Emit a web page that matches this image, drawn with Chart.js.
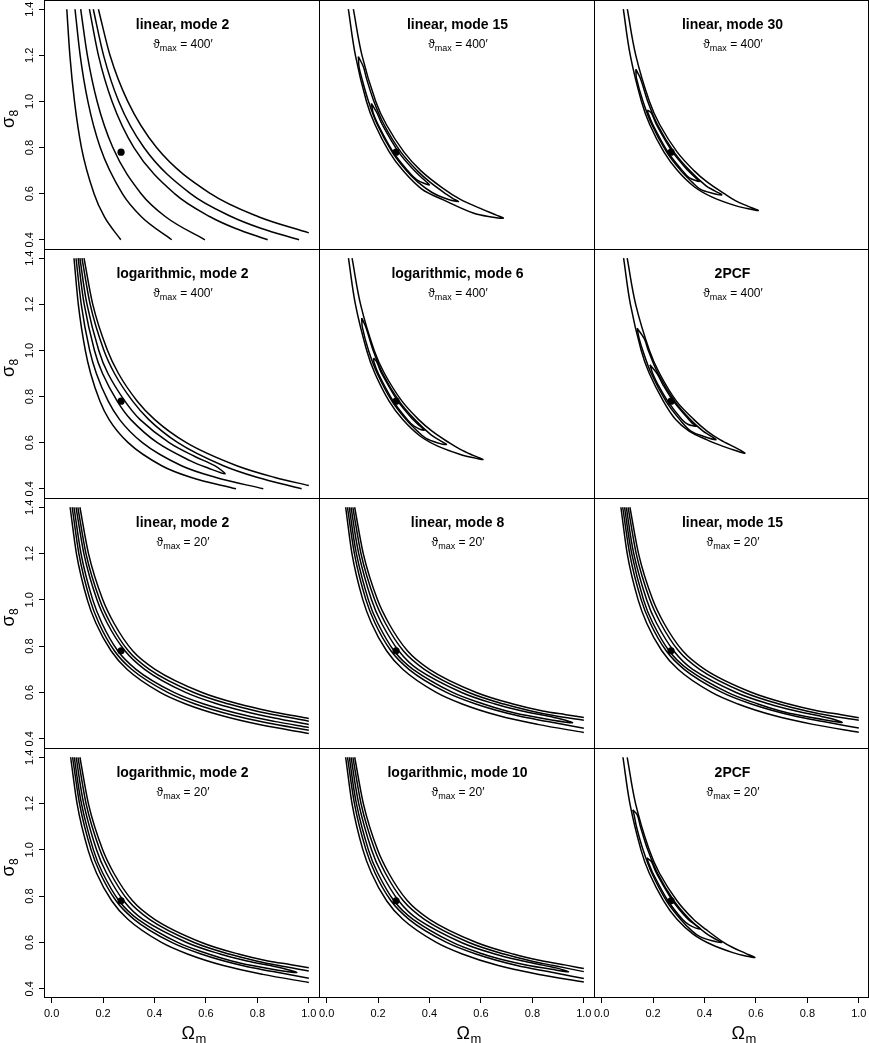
<!DOCTYPE html>
<html>
<head>
<meta charset="utf-8">
<script src="https://cdn.jsdelivr.net/npm/chart.js@4.4.0/dist/chart.umd.min.js"></script>
<style>
  body { margin: 0; background: #fff; width: 869px; height: 1043px; position: relative; overflow: hidden; }
  canvas { position: absolute; }
</style>
</head>
<body>
<script>
// axis ticks
const xTicks = [0.0, 0.2, 0.4, 0.6, 0.8, 1.0];
const yTicks = [0.4, 0.6, 0.8, 1.0, 1.2, 1.4];

// fiducial model (Omega_m, sigma_8)
const fiducial = [[0.27, 0.78]];

// panel titles
const panelTitles = ['linear, mode 2', 'linear, mode 15', 'linear, mode 30',
  'logarithmic, mode 2', 'logarithmic, mode 6', '2PCF',
  'linear, mode 2', 'linear, mode 8', 'linear, mode 15',
  'logarithmic, mode 2', 'logarithmic, mode 10', '2PCF'];
const panelTheta = ['400\u2032', '400\u2032', '400\u2032', '400\u2032', '400\u2032', '400\u2032',
  '20\u2032', '20\u2032', '20\u2032', '20\u2032', '20\u2032', '20\u2032'];

// contour lines, [Omega_m, sigma_8]
// panel 1 - linear, mode 2, 400'
const p1c1 = [[0.059,1.4],[0.071,1.2],[0.089,1.0],[0.116,0.8],[0.165,0.6],[0.205,0.5],[0.269,0.4]];
const p1c2 = [[0.091,1.4],[0.111,1.2],[0.141,1.0],[0.189,0.8],[0.275,0.6],[0.349,0.5],[0.467,0.4]];
const p1c3 = [[0.113,1.4],[0.139,1.2],[0.177,1.0],[0.238,0.8],[0.348,0.6],[0.443,0.5],[0.596,0.4]];
const p1c4 = [[0.147,1.4],[0.182,1.2],[0.235,1.0],[0.320,0.8],[0.478,0.6],[0.616,0.5],[0.713,0.45],[0.840,0.4]];
const p1c5 = [[0.162,1.4],[0.202,1.2],[0.261,1.0],[0.359,0.8],[0.540,0.6],[0.700,0.5],[0.813,0.45],[0.962,0.4]];
const p1c6 = [[0.182,1.4],[0.227,1.2],[0.296,1.0],[0.408,0.8],[0.618,0.6],[0.804,0.5],[1.0,0.43]];

// panel 2 - linear, mode 15, 400'
const p2Outer = [[0.0845,1.4],[0.112,1.2],[0.155,1.0],[0.188,0.9],[0.244,0.78],[0.297,0.7],[0.37,0.62],[0.454,0.573],[0.57,0.516],[0.64,0.499],[0.687,0.494],[0.66,0.507],[0.6,0.535],[0.52,0.575],[0.45,0.625],[0.366,0.7],[0.301,0.78],[0.232,0.9],[0.191,1.0],[0.1375,1.2],[0.104,1.4]];
const p2Mid = [[0.1235,1.195],[0.126,1.15],[0.137,1.1],[0.163,1.0],[0.197,0.9],[0.255,0.78],[0.31,0.7],[0.355,0.65],[0.41,0.605],[0.46,0.58],[0.512,0.566],[0.49,0.58],[0.465,0.598],[0.402,0.65],[0.352,0.7],[0.289,0.78],[0.223,0.9],[0.184,1.0],[0.155,1.1],[0.143,1.15],[0.1235,1.195]];
const p2In = [[0.174,0.992],[0.181,0.95],[0.2,0.9],[0.259,0.78],[0.315,0.7],[0.351,0.66],[0.399,0.638],[0.379,0.66],[0.341,0.7],[0.28,0.78],[0.216,0.9],[0.196,0.95],[0.174,0.992]];

// panel 3 - linear, mode 30, 400'
const p3Outer = [[0.0844,1.4],[0.1115,1.2],[0.155,1.0],[0.187,0.9],[0.2426,0.78],[0.295,0.7],[0.36,0.63],[0.43,0.585],[0.52,0.548],[0.58,0.532],[0.609,0.527],[0.57,0.545],[0.52,0.57],[0.477,0.6],[0.411,0.65],[0.359,0.7],[0.294,0.78],[0.2257,0.9],[0.1859,1.0],[0.1329,1.2],[0.1,1.4]];
const p3Mid = [[0.133,1.14],[0.1356,1.1],[0.161,1.0],[0.195,0.9],[0.253,0.78],[0.308,0.7],[0.352,0.65],[0.383,0.62],[0.43,0.602],[0.467,0.595],[0.44,0.612],[0.405,0.635],[0.3426,0.7],[0.2815,0.78],[0.217,0.9],[0.1795,1.0],[0.151,1.1],[0.133,1.14]];
const p3In = [[0.178,0.963],[0.1805,0.95],[0.199,0.9],[0.258,0.78],[0.314,0.7],[0.34,0.67],[0.38,0.653],[0.364,0.67],[0.336,0.7],[0.2765,0.78],[0.213,0.9],[0.193,0.95],[0.178,0.963]];

// panel 4 - logarithmic, mode 2, 400'
const p4A = [[0.087,1.4],[0.1038,1.2],[0.131,1.0],[0.1518,0.9],[0.188,0.78],[0.2236,0.7],[0.2976,0.6],[0.428,0.5],[0.54,0.45],[0.717,0.4]];
const p4B = [[0.095,1.4],[0.1152,1.2],[0.148,1.0],[0.174,0.9],[0.22,0.78],[0.2645,0.7],[0.353,0.6],[0.505,0.5],[0.636,0.45],[0.823,0.4]];
const p4In = [[0.103,1.4],[0.1268,1.2],[0.1666,1.0],[0.198,0.9],[0.255,0.78],[0.308,0.7],[0.411,0.6],[0.542,0.52],[0.608,0.49],[0.674,0.465],[0.634,0.5],[0.557,0.54],[0.457,0.6],[0.344,0.7],[0.285,0.78],[0.219,0.9],[0.1834,1.0],[0.1376,1.2],[0.11,1.4]];
const p4C = [[0.118,1.4],[0.1499,1.2],[0.2035,1.0],[0.2446,0.9],[0.315,0.78],[0.378,0.7],[0.491,0.6],[0.668,0.5],[0.798,0.45],[0.972,0.4]];
const p4D = [[0.126,1.4],[0.16,1.2],[0.2174,1.0],[0.26,0.9],[0.333,0.78],[0.401,0.7],[0.524,0.6],[0.72,0.5],[0.865,0.45],[1.0,0.414]];

// panel 5 - logarithmic, mode 6, 400'
const p5Outer = [[0.085,1.4],[0.112,1.2],[0.156,1.0],[0.188,0.9],[0.243,0.78],[0.296,0.7],[0.362,0.63],[0.432,0.585],[0.52,0.549],[0.578,0.533],[0.608,0.527],[0.57,0.545],[0.52,0.571],[0.476,0.6],[0.41,0.65],[0.358,0.7],[0.293,0.78],[0.225,0.9],[0.185,1.0],[0.132,1.2],[0.099,1.4]];
const p5Mid = [[0.1365,1.141],[0.139,1.1],[0.163,1.0],[0.197,0.9],[0.254,0.78],[0.309,0.7],[0.353,0.65],[0.385,0.62],[0.43,0.6],[0.466,0.592],[0.44,0.61],[0.405,0.635],[0.343,0.7],[0.282,0.78],[0.218,0.9],[0.181,1.0],[0.153,1.1],[0.1365,1.141]];
const p5In = [[0.1824,0.967],[0.184,0.95],[0.201,0.9],[0.259,0.78],[0.314,0.7],[0.34,0.672],[0.379,0.654],[0.363,0.672],[0.336,0.7],[0.277,0.78],[0.214,0.9],[0.195,0.95],[0.1824,0.967]];

// panel 6 - 2PCF, 400'
const p6Outer = [[0.0855,1.4],[0.112,1.2],[0.154,1.0],[0.1856,0.9],[0.24,0.78],[0.288,0.7],[0.34,0.65],[0.41,0.612],[0.47,0.585],[0.52,0.566],[0.557,0.554],[0.535,0.57],[0.46,0.613],[0.41,0.65],[0.359,0.7],[0.291,0.78],[0.2255,0.9],[0.1859,1.0],[0.1324,1.2],[0.0995,1.4]];
const p6Mid = [[0.138,1.097],[0.1464,1.05],[0.16,1.0],[0.193,0.9],[0.25,0.78],[0.304,0.7],[0.347,0.65],[0.395,0.628],[0.444,0.613],[0.42,0.632],[0.3945,0.65],[0.345,0.7],[0.284,0.78],[0.2195,0.9],[0.1816,1.0],[0.1663,1.05],[0.138,1.097]];
const p6In = [[0.188,0.938],[0.1986,0.9],[0.22,0.85],[0.257,0.78],[0.312,0.7],[0.335,0.68],[0.369,0.671],[0.352,0.685],[0.339,0.7],[0.279,0.78],[0.239,0.85],[0.2156,0.9],[0.188,0.938]];

// panel 7 - linear, mode 2, 20'
const p7L1 = [[0.072,1.4],[0.0965,1.2],[0.1388,1.0],[0.172,0.9],[0.231,0.78],[0.293,0.7],[0.422,0.6],[0.5215,0.55],[0.66,0.5],[0.812,0.46],[1.0,0.423]];
const p7L2 = [[0.08,1.4],[0.106,1.2],[0.1496,1.0],[0.1836,0.9],[0.244,0.78],[0.311,0.7],[0.451,0.6],[0.558,0.55],[0.709,0.5],[0.831,0.47],[1.0,0.437]];
const p7L3 = [[0.087,1.4],[0.1143,1.2],[0.16,1.0],[0.1953,0.9],[0.257,0.78],[0.328,0.7],[0.476,0.6],[0.592,0.55],[0.757,0.5],[0.866,0.475],[1.0,0.449]];
const p7U1 = [[0.095,1.4],[0.1254,1.2],[0.1764,1.0],[0.216,0.9],[0.285,0.78],[0.3616,0.7],[0.521,0.6],[0.645,0.55],[0.745,0.52],[0.866,0.49],[1.0,0.462]];
const p7U2 = [[0.102,1.4],[0.1336,1.2],[0.187,1.0],[0.228,0.9],[0.298,0.78],[0.38,0.7],[0.553,0.6],[0.689,0.55],[0.795,0.52],[0.882,0.5],[1.0,0.476]];
const p7U3 = [[0.11,1.4],[0.1434,1.2],[0.199,1.0],[0.242,0.9],[0.315,0.78],[0.402,0.7],[0.585,0.6],[0.729,0.55],[0.844,0.52],[0.936,0.5],[1.0,0.4876]];

// panel 8 - linear, mode 8, 20'
const p8L1 = [[0.074,1.4],[0.0985,1.2],[0.141,1.0],[0.174,0.9],[0.233,0.78],[0.296,0.7],[0.426,0.6],[0.527,0.55],[0.667,0.5],[0.82,0.462],[1.0,0.427]];
const p8L2 = [[0.081,1.4],[0.108,1.2],[0.153,1.0],[0.188,0.9],[0.25,0.78],[0.32,0.7],[0.466,0.6],[0.58,0.55],[0.74,0.5],[0.86,0.474],[1.0,0.445]];
const p8In = [[0.088,1.4],[0.1158,1.2],[0.1624,1.0],[0.1985,0.9],[0.262,0.78],[0.336,0.7],[0.49,0.6],[0.61,0.55],[0.7,0.52],[0.78,0.5],[0.88,0.48],[0.956,0.469],[0.91,0.485],[0.85,0.5],[0.76,0.52],[0.655,0.55],[0.525,0.6],[0.355,0.7],[0.28,0.78],[0.2132,0.9],[0.1746,1.0],[0.1248,1.2],[0.095,1.4]];
const p8U1 = [[0.102,1.4],[0.1336,1.2],[0.187,1.0],[0.228,0.9],[0.298,0.78],[0.38,0.7],[0.553,0.6],[0.689,0.55],[0.795,0.52],[0.882,0.5],[1.0,0.48]];
const p8U2 = [[0.109,1.4],[0.1425,1.2],[0.198,1.0],[0.241,0.9],[0.314,0.78],[0.4,0.7],[0.582,0.6],[0.725,0.55],[0.84,0.52],[0.93,0.504],[1.0,0.492]];

// panel 9 - linear, mode 15, 20'
const p9L1 = [[0.075,1.4],[0.0995,1.2],[0.142,1.0],[0.175,0.9],[0.234,0.78],[0.297,0.7],[0.428,0.6],[0.53,0.55],[0.67,0.5],[0.822,0.462],[1.0,0.428]];
const p9L2 = [[0.082,1.4],[0.109,1.2],[0.154,1.0],[0.189,0.9],[0.251,0.78],[0.321,0.7],[0.468,0.6],[0.582,0.55],[0.742,0.5],[0.862,0.474],[1.0,0.446]];
const p9In = [[0.089,1.4],[0.117,1.2],[0.163,1.0],[0.199,0.9],[0.262,0.78],[0.336,0.7],[0.49,0.6],[0.608,0.55],[0.695,0.52],[0.775,0.5],[0.87,0.481],[0.935,0.47],[0.895,0.486],[0.84,0.5],[0.755,0.52],[0.652,0.55],[0.523,0.6],[0.354,0.7],[0.28,0.78],[0.213,0.9],[0.175,1.0],[0.125,1.2],[0.096,1.4]];
const p9U1 = [[0.103,1.4],[0.1345,1.2],[0.188,1.0],[0.229,0.9],[0.299,0.78],[0.381,0.7],[0.555,0.6],[0.69,0.55],[0.797,0.52],[0.884,0.5],[1.0,0.48]];
const p9U2 = [[0.11,1.4],[0.1435,1.2],[0.199,1.0],[0.242,0.9],[0.315,0.78],[0.401,0.7],[0.584,0.6],[0.727,0.55],[0.842,0.52],[0.932,0.504],[1.0,0.491]];

// panel 10 - logarithmic, mode 2, 20'
const p10L1 = [[0.074,1.4],[0.099,1.2],[0.1415,1.0],[0.1745,0.9],[0.2335,0.78],[0.2965,0.7],[0.427,0.6],[0.528,0.55],[0.668,0.5],[0.821,0.462],[1.0,0.427]];
const p10L2 = [[0.0815,1.4],[0.1085,1.2],[0.1535,1.0],[0.1885,0.9],[0.2505,0.78],[0.3205,0.7],[0.467,0.6],[0.581,0.55],[0.741,0.5],[0.861,0.474],[1.0,0.445]];
const p10In = [[0.088,1.4],[0.116,1.2],[0.1625,1.0],[0.1985,0.9],[0.262,0.78],[0.336,0.7],[0.49,0.6],[0.61,0.55],[0.7,0.52],[0.78,0.5],[0.88,0.48],[0.953,0.47],[0.905,0.486],[0.85,0.5],[0.76,0.52],[0.655,0.55],[0.525,0.6],[0.355,0.7],[0.28,0.78],[0.2132,0.9],[0.1746,1.0],[0.1248,1.2],[0.0955,1.4]];
const p10U1 = [[0.1025,1.4],[0.134,1.2],[0.1875,1.0],[0.2285,0.9],[0.2985,0.78],[0.3805,0.7],[0.554,0.6],[0.69,0.55],[0.796,0.52],[0.883,0.5],[1.0,0.477]];
const p10U2 = [[0.11,1.4],[0.143,1.2],[0.1985,1.0],[0.2415,0.9],[0.3145,0.78],[0.4005,0.7],[0.583,0.6],[0.726,0.55],[0.841,0.52],[0.931,0.504],[1.0,0.491]];

// panel 11 - logarithmic, mode 10, 20'
const p11L1 = [[0.074,1.4],[0.0988,1.2],[0.1412,1.0],[0.1742,0.9],[0.2332,0.78],[0.2962,0.7],[0.4265,0.6],[0.5275,0.55],[0.6675,0.5],[0.8205,0.463],[1.0,0.429]];
const p11L2 = [[0.0812,1.4],[0.1082,1.2],[0.1532,1.0],[0.1882,0.9],[0.2502,0.78],[0.3202,0.7],[0.4665,0.6],[0.5805,0.55],[0.7405,0.5],[0.8605,0.474],[1.0,0.444]];
const p11In = [[0.0882,1.4],[0.1159,1.2],[0.1625,1.0],[0.1986,0.9],[0.262,0.78],[0.336,0.7],[0.49,0.6],[0.608,0.55],[0.697,0.522],[0.775,0.503],[0.875,0.484],[0.94,0.473],[0.9,0.488],[0.845,0.501],[0.758,0.521],[0.654,0.55],[0.524,0.6],[0.355,0.7],[0.28,0.78],[0.2132,0.9],[0.1746,1.0],[0.1248,1.2],[0.0952,1.4]];
const p11U1 = [[0.1022,1.4],[0.1338,1.2],[0.1872,1.0],[0.2282,0.9],[0.2982,0.78],[0.3802,0.7],[0.5535,0.6],[0.6895,0.55],[0.7955,0.52],[0.8825,0.5],[1.0,0.474]];
const p11U2 = [[0.1092,1.4],[0.1428,1.2],[0.1982,1.0],[0.2412,0.9],[0.3142,0.78],[0.4002,0.7],[0.5825,0.6],[0.7255,0.55],[0.8405,0.52],[0.9305,0.502],[1.0,0.487]];

// panel 12 - 2PCF, 20'
const p12Outer = [[0.083,1.4],[0.11,1.2],[0.153,1.0],[0.185,0.9],[0.241,0.78],[0.293,0.7],[0.357,0.635],[0.425,0.592],[0.51,0.556],[0.566,0.54],[0.596,0.535],[0.56,0.553],[0.51,0.578],[0.468,0.605],[0.407,0.655],[0.357,0.7],[0.293,0.78],[0.2245,0.9],[0.185,1.0],[0.132,1.2],[0.0995,1.4]];
const p12Mid = [[0.121,1.173],[0.1265,1.15],[0.1356,1.1],[0.161,1.0],[0.195,0.9],[0.252,0.78],[0.307,0.7],[0.351,0.65],[0.382,0.625],[0.43,0.607],[0.467,0.6],[0.44,0.616],[0.405,0.64],[0.342,0.7],[0.281,0.78],[0.217,0.9],[0.1795,1.0],[0.151,1.1],[0.139,1.15],[0.121,1.173]];
const p12In = [[0.176,0.965],[0.1805,0.95],[0.199,0.9],[0.258,0.78],[0.314,0.7],[0.342,0.675],[0.384,0.658],[0.366,0.675],[0.336,0.7],[0.2765,0.78],[0.213,0.9],[0.193,0.95],[0.176,0.965]];

const panelCurves = [
  [p1c1, p1c2, p1c3, p1c4, p1c5, p1c6],
  [p2Outer, p2Mid, p2In],
  [p3Outer, p3Mid, p3In],
  [p4A, p4B, p4In, p4C, p4D],
  [p5Outer, p5Mid, p5In],
  [p6Outer, p6Mid, p6In],
  [p7L1, p7L2, p7L3, p7U1, p7U2, p7U3],
  [p8L1, p8L2, p8In, p8U1, p8U2],
  [p9L1, p9L2, p9In, p9U1, p9U2],
  [p10L1, p10L2, p10In, p10U1, p10U2],
  [p11L1, p11L2, p11In, p11U1, p11U2],
  [p12Outer, p12Mid, p12In]
];

// page layout
const colLeft = [44, 319, 594];
const colW = 275;
const rowTop = [0, 249, 498, 748];
const rowH = [249, 249, 250, 250];
const yAxisW = 44;
const xAxisH = 45;
const FONT = '"Liberation Sans", Arial, Helvetica, sans-serif';

// frame round each panel (shared edges drawn once)
const panelFrame = {
  id: 'panelFrame',
  afterDraw(chart, args, opts) {
    const a = chart.chartArea, ctx = chart.ctx;
    ctx.save();
    ctx.strokeStyle = '#000';
    ctx.lineWidth = 1;
    ctx.beginPath();
    ctx.moveTo(a.left, a.top + 0.5); ctx.lineTo(a.right, a.top + 0.5);
    ctx.moveTo(a.left + 0.5, a.top); ctx.lineTo(a.left + 0.5, a.bottom);
    if (opts.right) { ctx.moveTo(a.right - 0.5, a.top); ctx.lineTo(a.right - 0.5, a.bottom); }
    if (opts.bottom) { ctx.moveTo(a.left, a.bottom - 0.5); ctx.lineTo(a.right, a.bottom - 0.5); }
    ctx.stroke();
    ctx.restore();
  }
};

// titles inside panels and axis labels
const panelText = {
  id: 'panelText',
  afterDraw(chart, args, opts) {
    const a = chart.chartArea, ctx = chart.ctx;
    const cx = (a.left + a.right) / 2;
    ctx.save();
    ctx.fillStyle = '#000';
    ctx.textBaseline = 'alphabetic';
    ctx.textAlign = 'center';
    ctx.font = 'bold 14px ' + FONT;
    ctx.fillText(opts.title, cx + 1, a.top + 28.5);

    // theta_max = ...
    ctx.textAlign = 'left';
    ctx.font = '12px ' + FONT;
    const w1 = ctx.measureText('\u03d1').width;
    const rest = ' = ' + opts.theta;
    const w3 = ctx.measureText(rest).width;
    ctx.font = '9px ' + FONT;
    const w2 = ctx.measureText('max').width;
    let x = cx + 1.5 - (w1 + w2 + w3) / 2;
    const by = a.top + 47.5;
    ctx.font = '12px ' + FONT;
    ctx.fillText('\u03d1', x, by);
    ctx.font = '9px ' + FONT;
    ctx.fillText('max', x + w1, by + 3);
    ctx.font = '12px ' + FONT;
    ctx.fillText(rest, x + w1 + w2, by);

    if (opts.ylab) {
      ctx.save();
      ctx.translate(13.5, (a.top + a.bottom) / 2 + 3.5);
      ctx.rotate(-Math.PI / 2);
      ctx.font = '18px ' + FONT;
      ctx.fillText('\u03c3', 0, 0);
      const ws = ctx.measureText('\u03c3').width;
      ctx.font = '12px ' + FONT;
      ctx.fillText('8', ws + 0.5, 4);
      ctx.restore();
    }
    if (opts.xlab) {
      const bx = cx;
      const yb = a.bottom + 40.5;
      ctx.font = '18px ' + FONT;
      ctx.fillText('\u03a9', bx, yb);
      const wo = ctx.measureText('\u03a9').width;
      ctx.font = '13px ' + FONT;
      ctx.fillText('m', bx + wo + 0.5, yb + 4);
    }
    ctx.restore();
  }
};

function toPoints(arr) {
  return arr.map(p => ({ x: p[0], y: p[1] }));
}

// open contour pieces run left to right; closed ones turn back at the tip
function isOpen(arr) {
  for (let i = 1; i < arr.length; i++) {
    if (arr[i][0] <= arr[i - 1][0]) return false;
  }
  return true;
}

function makePanel(r, c) {
  const idx = r * 3 + c;
  const showX = r === 3;
  const showY = c === 0;
  const canvas = document.createElement('canvas');
  const w = showY ? colLeft[0] + colW : colW;
  const h = rowH[r] + (showX ? xAxisH : 0);
  canvas.width = w;
  canvas.height = h;
  canvas.style.left = (showY ? 0 : colLeft[c]) + 'px';
  canvas.style.top = rowTop[r] + 'px';
  canvas.style.width = w + 'px';
  canvas.style.height = h + 'px';
  document.body.appendChild(canvas);

  const datasets = panelCurves[idx].map(curve => {
    const open = isOpen(curve);
    return {
      data: toPoints(curve),
      showLine: true,
      borderColor: '#000',
      borderWidth: 1.5,
      pointRadius: 0,
      cubicInterpolationMode: open ? 'monotone' : 'default',
      tension: open ? 0.4 : 0.35,
      fill: false
    };
  });
  datasets.push({
    data: toPoints(fiducial),
    showLine: false,
    pointRadius: 3.6,
    pointBackgroundColor: '#000',
    pointBorderWidth: 0
  });

  const tickGrid = { display: true, drawOnChartArea: false, drawTicks: true, tickLength: 5, color: '#000', lineWidth: 1 };

  new Chart(canvas, {
    type: 'scatter',
    data: { datasets: datasets },
    options: {
      responsive: false,
      animation: false,
      events: [],
      layout: { autoPadding: false, padding: 0 },
      plugins: {
        legend: { display: false },
        tooltip: { enabled: false },
        panelFrame: { right: c === 2, bottom: showX },
        panelText: { title: panelTitles[idx], theta: panelTheta[idx], ylab: showY, xlab: showX }
      },
      scales: {
        x: {
          type: 'linear',
          min: -0.0296,
          max: 1.0396,
          display: showX,
          afterBuildTicks: s => { s.ticks = xTicks.map(v => ({ value: v })); },
          afterFit: s => {
            s.height = showX ? xAxisH : 0;
            s.paddingLeft = 0; s.paddingRight = 0; s.paddingTop = 0; s.paddingBottom = 0;
          },
          grid: tickGrid,
          border: { display: false },
          ticks: {
            autoSkip: false,
            maxRotation: 0,
            padding: 4,
            color: '#000',
            font: { family: FONT, size: 11 },
            callback: v => Number(v).toFixed(1)
          }
        },
        y: {
          type: 'linear',
          min: 0.36,
          max: 1.44,
          display: showY,
          afterBuildTicks: s => { s.ticks = yTicks.map(v => ({ value: v })); },
          afterFit: s => {
            s.width = showY ? yAxisW : 0;
            s.paddingLeft = 0; s.paddingRight = 0; s.paddingTop = 0; s.paddingBottom = 0;
          },
          grid: tickGrid,
          border: { display: false },
          ticks: {
            autoSkip: false,
            minRotation: 90,
            maxRotation: 90,
            crossAlign: 'center',
            padding: 1,
            color: '#000',
            font: { family: FONT, size: 11 },
            callback: v => Number(v).toFixed(1)
          }
        }
      }
    },
    plugins: [panelFrame, panelText]
  });
}

for (let r = 0; r < 4; r++) {
  for (let c = 0; c < 3; c++) {
    makePanel(r, c);
  }
}
</script>
</body>
</html>
